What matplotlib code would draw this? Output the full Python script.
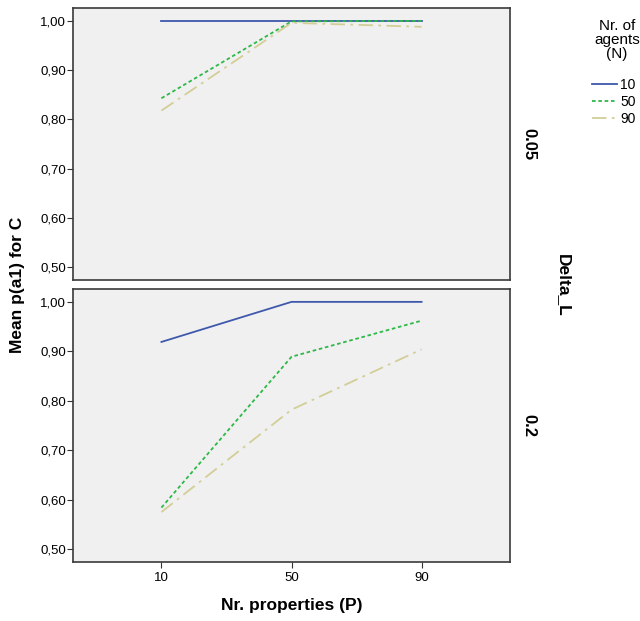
import numpy as np
import matplotlib.pyplot as plt

plt.rcParams['font.family'] = ['Liberation Sans', 'DejaVu Sans']

# data
properties = ['10', '50', '90']
agents = ['10', '50', '90']
delta_labels = ['0.05', '0.2']
# rows: N=10, N=50, N=90
means_005 = [[1.000, 1.000, 1.000],
             [0.843, 0.999, 1.000],
             [0.818, 0.996, 0.988]]
means_02 = [[0.919, 1.000, 1.000],
            [0.584, 0.889, 0.962],
            [0.575, 0.782, 0.904]]
yticks = [0.5, 0.6, 0.7, 0.8, 0.9, 1.0]

colors = ['#3E58AC', '#2EB848', '#D3CE97']
styles = ['-', (0, (2, 1.5)), (0, (8, 3, 1.5, 3))]

fig = plt.figure(figsize=(6.4, 6.21), dpi=100)
ax_top = fig.add_axes([0.114, 0.549, 0.683, 0.438])
ax_bot = fig.add_axes([0.114, 0.095, 0.683, 0.4396])

x = np.arange(len(properties))
for ax, data, lab in zip([ax_top, ax_bot], [means_005, means_02], delta_labels):
    ax.set_facecolor('#F0F0F0')
    for i, n in enumerate(agents):
        ax.plot(x, data[i], color=colors[i], linestyle=styles[i], lw=1.3, label=n)
    ax.set_xlim(-0.68, 2.68)
    ax.set_ylim(0.474, 1.026)
    ax.set_yticks(yticks)
    ax.set_yticklabels(['{:.2f}'.format(v).replace('.', ',') for v in yticks], fontsize=9.5)
    ax.tick_params(axis='y', direction='out', length=4, width=0.8, color='#333333', pad=1)
    for s in ax.spines.values():
        s.set_color('#3a3a3a')
        s.set_linewidth(1.2)
    ax.text(1.043, 0.5, lab, transform=ax.transAxes, rotation=-90, fontsize=12,
            fontweight='bold', ha='center', va='center')

ax_top.set_xticks([])
ax_bot.set_xticks(x)
ax_bot.set_xticklabels(properties, fontsize=9.5)
ax_bot.tick_params(axis='x', direction='out', length=4, width=0.8, color='#333333')
ax_bot.set_xlabel('Nr. properties (P)', fontsize=12.5, fontweight='bold', labelpad=10)

fig.text(0.028, 0.541, 'Mean p(a1) for C', rotation=90, fontsize=12.5,
         fontweight='bold', ha='center', va='center')
fig.text(0.88, 0.541, 'Delta_L', rotation=-90, fontsize=12.5,
         fontweight='bold', ha='center', va='center')

# legend title drawn separately so it can sit centred over the entries
fig.text(617 / 640, 1 - 40 / 621, 'Nr. of\nagents\n(N)', fontsize=11,
         ha='center', va='center', multialignment='center', linespacing=1.0)

handles, labels = ax_top.get_legend_handles_labels()
leg = fig.legend(handles, labels, loc='upper left',
                 bbox_to_anchor=(592 / 640, 1 - 78 / 621), frameon=False, fontsize=10,
                 handlelength=1.8, handletextpad=0.25, labelspacing=0.2,
                 borderpad=0, borderaxespad=0)

fig.savefig('out.png', dpi=100)
